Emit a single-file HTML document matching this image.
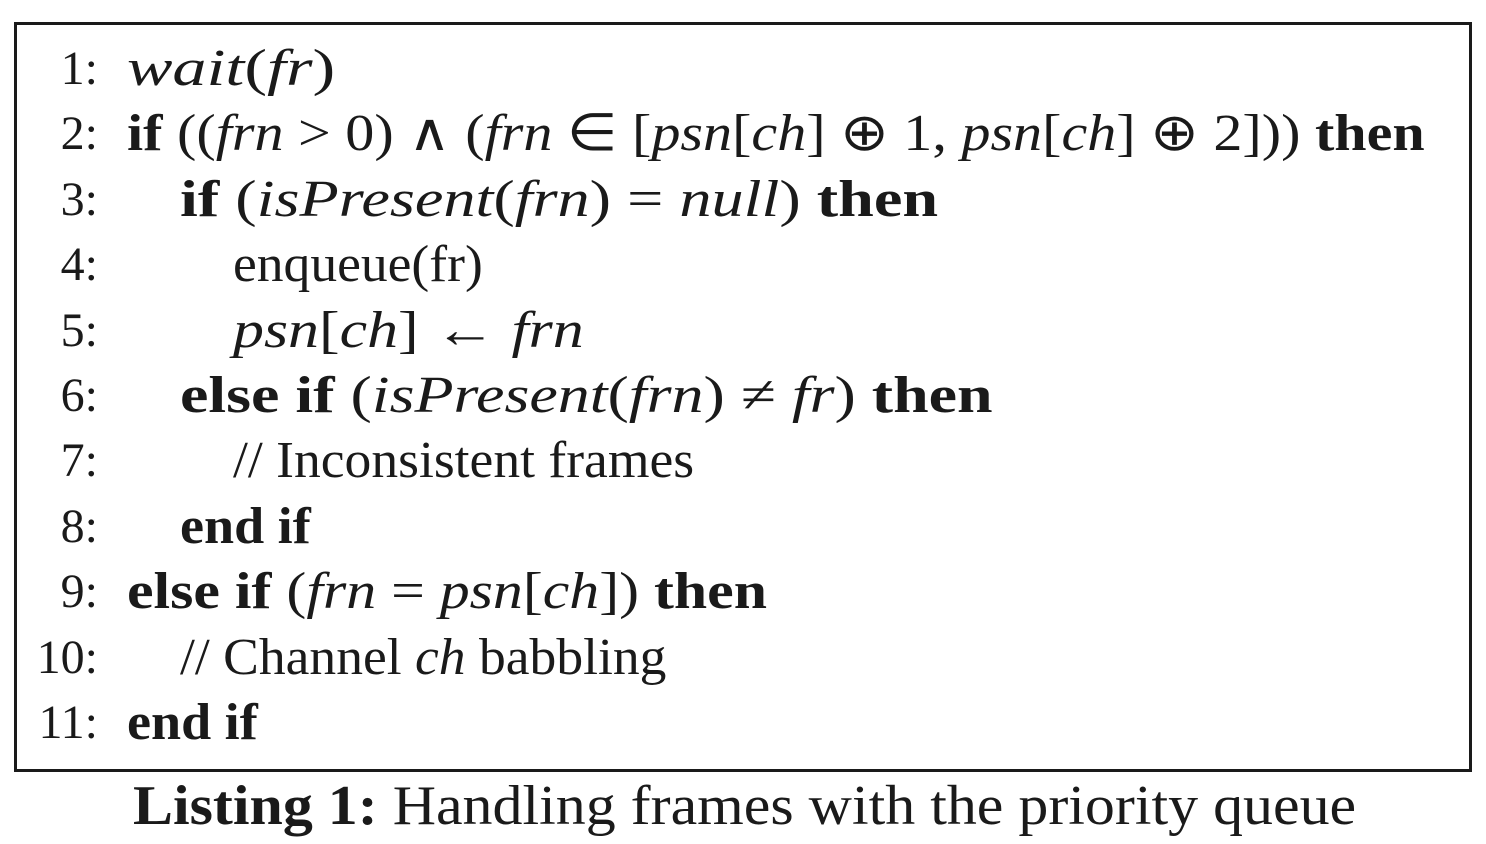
<!DOCTYPE html>
<html><head><meta charset="utf-8">
<style>
html,body{margin:0;padding:0;background:#fff;}
body{width:1486px;height:844px;position:relative;overflow:hidden;font-family:"Liberation Serif",serif;color:#1a1a1a;}
#box{position:absolute;left:14px;top:22px;width:1452px;height:744px;border:3px solid #1a1a1a;}
.ln{position:absolute;left:0;width:1486px;height:65px;line-height:65px;font-size:52px;white-space:nowrap;}
.num{position:absolute;left:0;width:98px;text-align:right;font-size:48px;}
.code{position:absolute;transform-origin:0 50%;}
i{font-style:italic;}
b{font-weight:bold;}
#cap{position:absolute;left:133px;top:772px;font-size:56px;line-height:68px;white-space:nowrap;transform-origin:0 50%;transform:scaleX(1.07);}
</style></head><body>
<div id="box"></div>
<div class="ln" style="top:36px"><span class="num">1:</span><span class="code" style="left:127px;transform:scaleX(1.31)"><i>wait</i>(<i>fr</i>)</span></div>
<div class="ln" style="top:101px"><span class="num">2:</span><span class="code" style="left:127px;transform:scaleX(1.117)"><b>if</b> ((<i>frn</i> &gt; 0) ∧ (<i>frn</i> ∈ [<i>psn</i>[<i>ch</i>] ⊕ 1, <i>psn</i>[<i>ch</i>] ⊕ 2])) <b>then</b></span></div>
<div class="ln" style="top:167px"><span class="num">3:</span><span class="code" style="left:180px;transform:scaleX(1.235)"><b>if</b> (<i>isPresent</i>(<i>frn</i>) = <i>null</i>) <b>then</b></span></div>
<div class="ln" style="top:232px"><span class="num">4:</span><span class="code" style="left:233px;transform:scaleX(1.03)">enqueue(fr)</span></div>
<div class="ln" style="top:298px"><span class="num">5:</span><span class="code" style="left:233px;transform:scaleX(1.19)"><i>psn</i>[<i>ch</i>] ← <i>frn</i></span></div>
<div class="ln" style="top:363px"><span class="num">6:</span><span class="code" style="left:180px;transform:scaleX(1.23)"><b>else if</b> (<i>isPresent</i>(<i>frn</i>) ≠ <i>fr</i>) <b>then</b></span></div>
<div class="ln" style="top:428px"><span class="num">7:</span><span class="code" style="left:233px;transform:scaleX(1.03)">// Inconsistent frames</span></div>
<div class="ln" style="top:494px"><span class="num">8:</span><span class="code" style="left:180px;transform:scaleX(1.04)"><b>end if</b></span></div>
<div class="ln" style="top:559px"><span class="num">9:</span><span class="code" style="left:127px;transform:scaleX(1.15)"><b>else if</b> (<i>frn</i> = <i>psn</i>[<i>ch</i>]) <b>then</b></span></div>
<div class="ln" style="top:625px"><span class="num">10:</span><span class="code" style="left:180px;transform:scaleX(1.03)">// Channel <i>ch</i> babbling</span></div>
<div class="ln" style="top:690px"><span class="num">11:</span><span class="code" style="left:127px;transform:scaleX(1.04)"><b>end if</b></span></div>
<div id="cap"><b>Listing 1:</b> Handling frames with the priority queue</div>
</body></html>
